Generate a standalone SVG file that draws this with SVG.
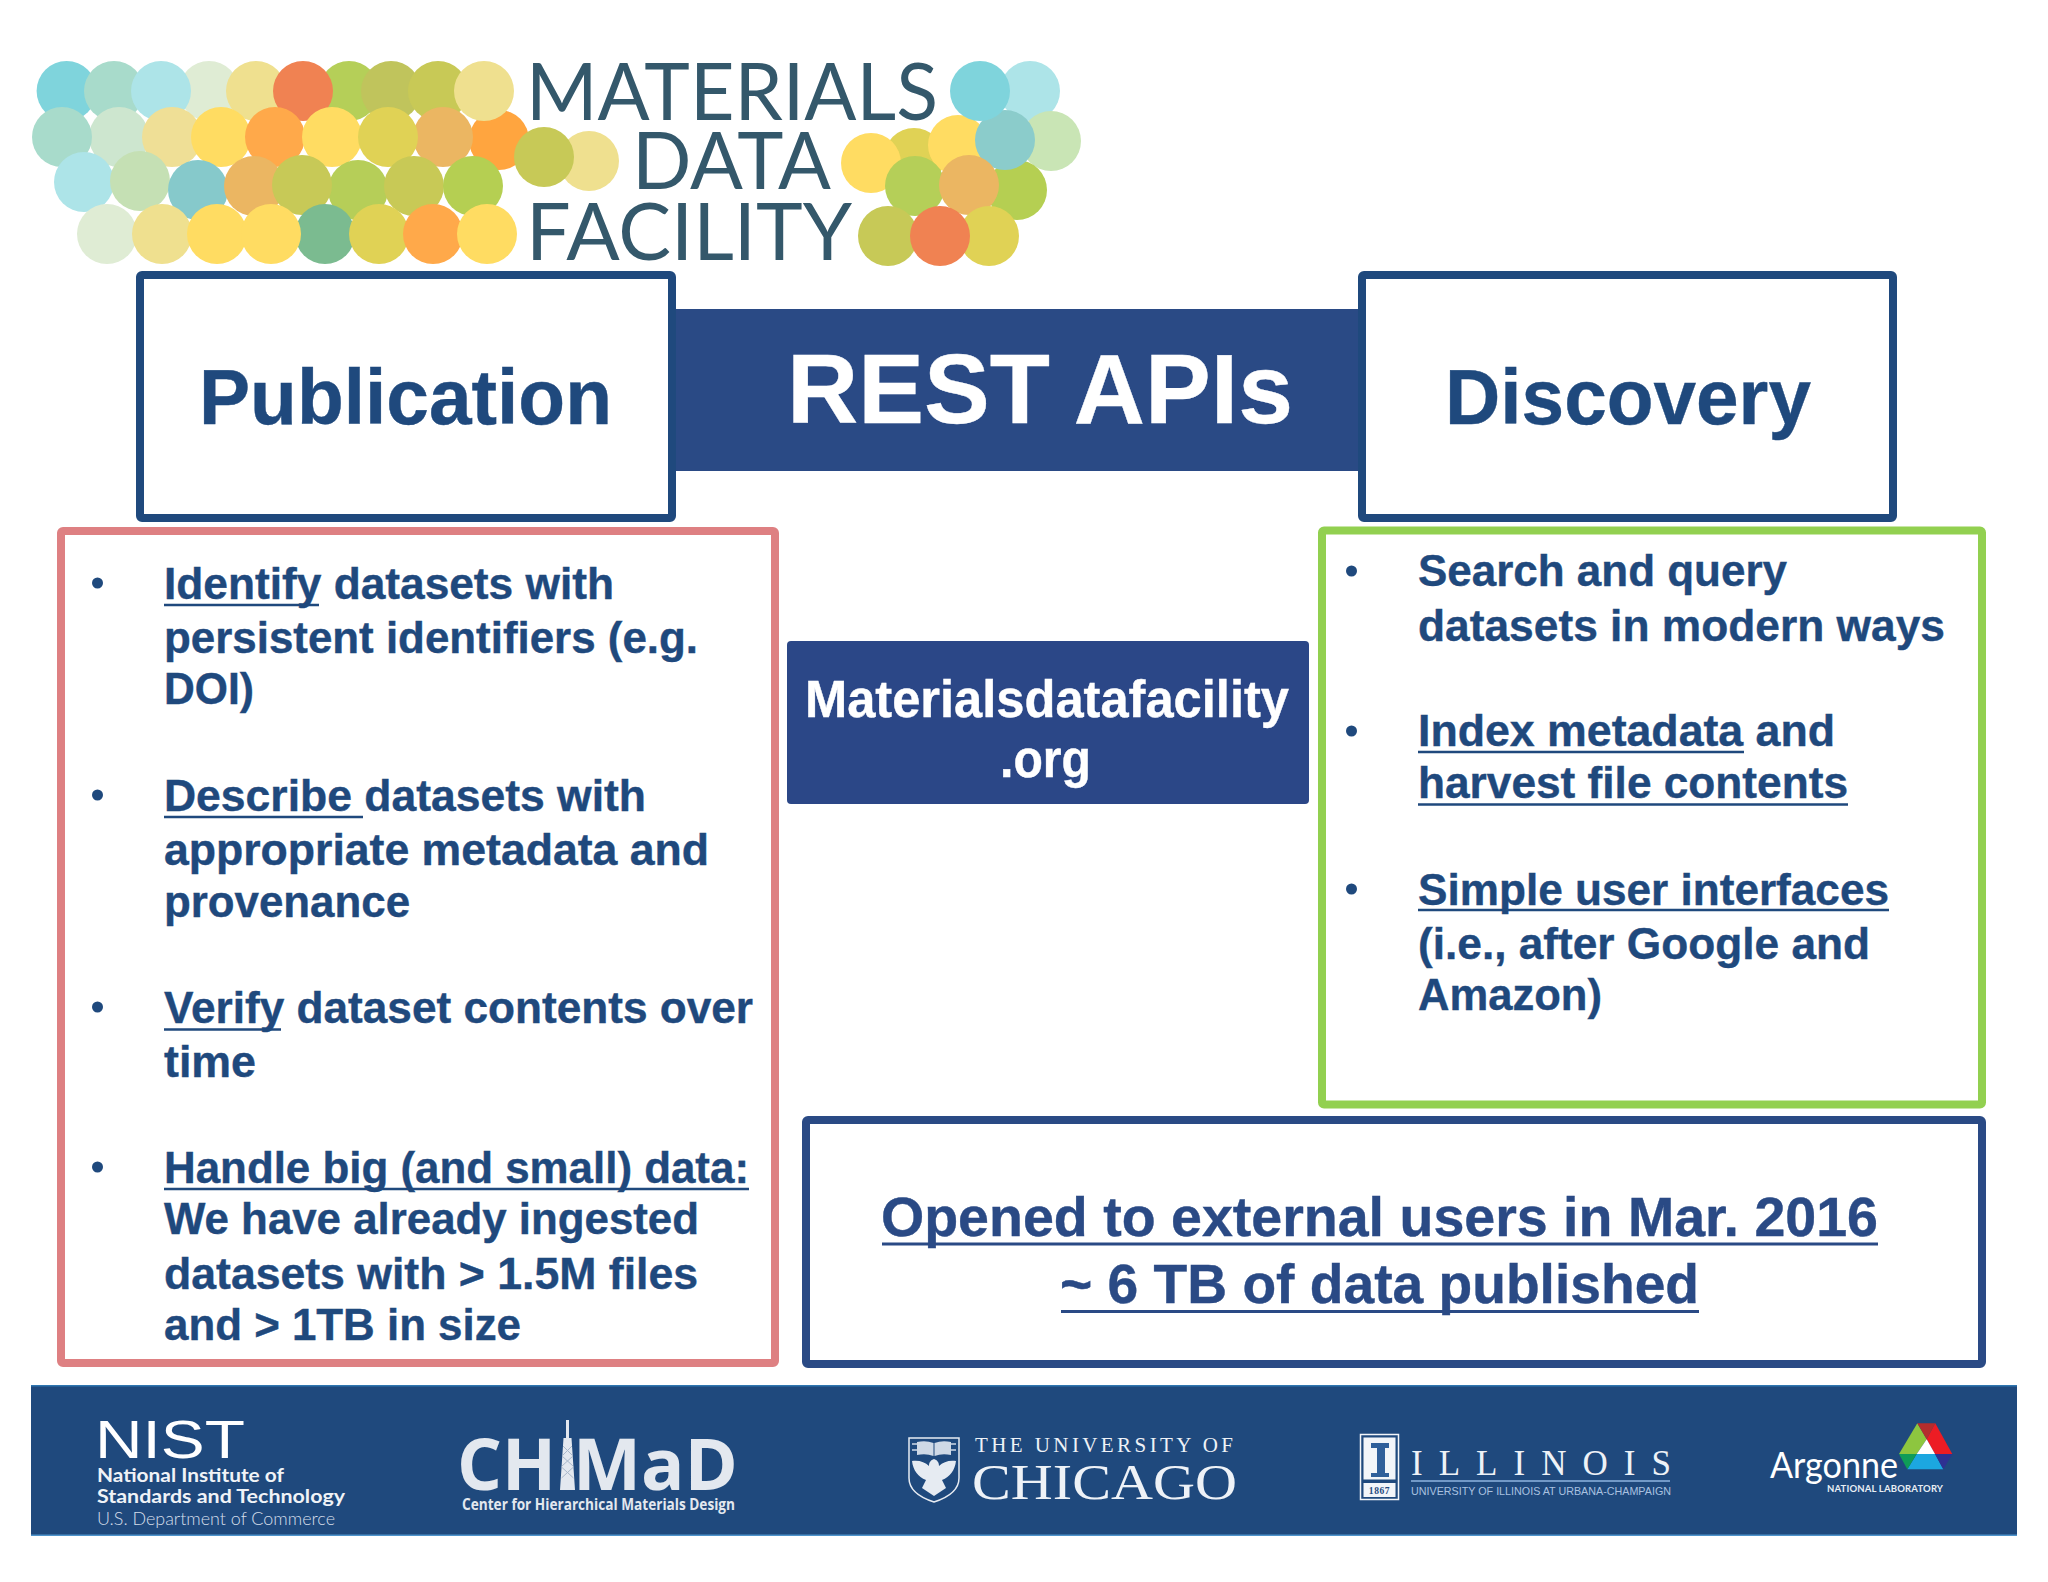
<svg xmlns="http://www.w3.org/2000/svg" width="2048" height="1582" viewBox="0 0 2048 1582">
<style>
.t{font-family:"Liberation Sans",Arial,sans-serif;font-weight:700;fill:#1f497d;stroke:#1f497d;stroke-width:.4}
.b{font-size:44px}
.h{font-size:77px}
.w{fill:#fff;stroke:#fff}
.n{fill:#2a4a85;stroke:#2a4a85;font-size:56px}
.u{stroke:#1f497d;stroke-width:2.6}
.d{fill:#1f497d}
.bx{fill:#fff;stroke-width:8}
.lg{font-family:"Lato","Open Sans",sans-serif;font-weight:400;fill:#34586b;font-size:80px}
.se{font-family:"Liberation Serif","Times New Roman",serif;fill:#eef2f7}
.ni{font-family:"Lato","Noto Sans",sans-serif;fill:#f0f3f7}
.ch{font-family:"Open Sans","Noto Sans",sans-serif;font-weight:700;fill:#e3e8ef}
</style>
<rect width="2048" height="1582" fill="#fff"/>
<g id="logo">
<g id="logo-left">
<circle cx="499" cy="140" r="30" fill="#ffa53f"/>
<circle cx="66.6" cy="91" r="30" fill="#7fd4dc"/><circle cx="114" cy="91" r="30" fill="#a8dbcb"/><circle cx="209" cy="91" r="30" fill="#dfecd4"/><circle cx="161" cy="91" r="30" fill="#ade4e8"/><circle cx="256" cy="91" r="30" fill="#efe08f"/><circle cx="349" cy="91" r="30" fill="#b5cf58"/><circle cx="303" cy="91" r="30" fill="#f08252"/><circle cx="391" cy="91" r="30" fill="#c0c45c"/><circle cx="438" cy="91" r="30" fill="#c8c956"/><circle cx="484" cy="91" r="30" fill="#efe08f"/>
<circle cx="119" cy="137" r="30" fill="#cde6cf"/><circle cx="62" cy="137" r="30" fill="#a8dbcb"/><circle cx="172" cy="137" r="30" fill="#efdf96"/><circle cx="221" cy="137" r="30" fill="#ffdc62"/><circle cx="275" cy="137" r="30" fill="#ffa94a"/><circle cx="332" cy="137" r="30" fill="#ffdc62"/><circle cx="443" cy="137" r="30" fill="#ebb662"/><circle cx="388" cy="137" r="30" fill="#e0d255"/>
<circle cx="84" cy="182" r="30" fill="#ade4e8"/><circle cx="140" cy="181" r="30" fill="#c5e0b4"/><circle cx="198" cy="190" r="30" fill="#86c9cb"/><circle cx="254" cy="186" r="30" fill="#ebb662"/><circle cx="358" cy="190" r="30" fill="#b6ce58"/><circle cx="302" cy="185" r="30" fill="#c7c957"/><circle cx="414" cy="186" r="30" fill="#c8c956"/><circle cx="473" cy="186" r="30" fill="#b5cf52"/>
<circle cx="107" cy="234" r="30" fill="#dfecd4"/><circle cx="162" cy="234" r="30" fill="#efe08f"/><circle cx="217" cy="234" r="30" fill="#ffdc62"/><circle cx="325" cy="234" r="30" fill="#7bbb90"/><circle cx="271" cy="234" r="30" fill="#ffdc62"/><circle cx="379" cy="234" r="30" fill="#e0d255"/><circle cx="433" cy="234" r="30" fill="#ffa94a"/><circle cx="487" cy="234" r="30" fill="#ffdc62"/>
<circle cx="589" cy="161" r="30" fill="#efe08f"/><circle cx="544" cy="157" r="30" fill="#c7c957"/>
</g>
<g id="logo-right">
<circle cx="1030" cy="91" r="30" fill="#ade4e8"/><circle cx="1051" cy="141" r="30" fill="#c9e5b5"/><circle cx="914" cy="158" r="30" fill="#e0d255"/><circle cx="958" cy="145" r="30" fill="#ffdc62"/><circle cx="871" cy="163" r="30" fill="#ffdc62"/><circle cx="1017" cy="190" r="30" fill="#b5cf52"/><circle cx="1005" cy="140" r="30" fill="#8bcccb"/><circle cx="980" cy="91" r="30" fill="#7fd4dc"/><circle cx="915" cy="186" r="30" fill="#b5cf58"/><circle cx="969" cy="185" r="30" fill="#ebb662"/><circle cx="989" cy="236" r="30" fill="#e0d255"/><circle cx="888" cy="236" r="30" fill="#c7c957"/><circle cx="940" cy="236" r="30" fill="#f08252"/>
</g>
<text class="lg" x="526" y="120" textLength="412" lengthAdjust="spacingAndGlyphs">MATERIALS</text>
<text class="lg" x="632" y="189" textLength="199" lengthAdjust="spacingAndGlyphs">DATA</text>
<text class="lg" x="526" y="260" textLength="326" lengthAdjust="spacingAndGlyphs">FACILITY</text>
</g>
<g id="rest-apis">
<rect x="672" y="309" width="690" height="162" fill="#2a4a85"/>
<text class="t w" x="787" y="423" font-size="98" textLength="506" lengthAdjust="spacingAndGlyphs">REST APIs</text>
</g>
<g id="publication">
<rect class="bx" x="140" y="275" width="532" height="243" rx="2" stroke="#1f497d"/>
<text class="t h" x="199" y="424" textLength="413" lengthAdjust="spacingAndGlyphs">Publication</text>
</g>
<g id="discovery">
<rect class="bx" x="1362" y="275" width="531" height="243" rx="2" stroke="#1f497d"/>
<text class="t h" x="1445" y="424" textLength="366" lengthAdjust="spacingAndGlyphs">Discovery</text>
</g>
<g id="publication-list">
<rect class="bx" x="61" y="531" width="714" height="832" rx="2" stroke="#de8082"/>
<circle class="d" cx="97.500" cy="583" r="5.500"/>
<text class="t b" x="164" y="599" textLength="450" lengthAdjust="spacingAndGlyphs">Identify datasets with</text>
<line class="u" x1="164" y1="605" x2="319" y2="605"/>
<text class="t b" x="164" y="653" textLength="534" lengthAdjust="spacingAndGlyphs">persistent identifiers (e.g.</text>
<text class="t b" x="164" y="704" textLength="90" lengthAdjust="spacingAndGlyphs">DOI)</text>
<circle class="d" cx="97.500" cy="795" r="5.500"/>
<text class="t b" x="164" y="811" textLength="482" lengthAdjust="spacingAndGlyphs">Describe datasets with</text>
<line class="u" x1="164" y1="817" x2="363" y2="817"/>
<text class="t b" x="164" y="865" textLength="545" lengthAdjust="spacingAndGlyphs">appropriate metadata and</text>
<text class="t b" x="164" y="917" textLength="246" lengthAdjust="spacingAndGlyphs">provenance</text>
<circle class="d" cx="97.500" cy="1007" r="5.500"/>
<text class="t b" x="164" y="1023" textLength="589" lengthAdjust="spacingAndGlyphs">Verify dataset contents over</text>
<line class="u" x1="164" y1="1029.500" x2="281" y2="1029.500"/>
<text class="t b" x="164" y="1077" textLength="92" lengthAdjust="spacingAndGlyphs">time</text>
<circle class="d" cx="97.500" cy="1167" r="5.500"/>
<text class="t b" x="164" y="1183" textLength="585" lengthAdjust="spacingAndGlyphs">Handle big (and small) data:</text>
<line class="u" x1="164" y1="1189" x2="749" y2="1189"/>
<text class="t b" x="164" y="1234" textLength="535" lengthAdjust="spacingAndGlyphs">We have already ingested</text>
<text class="t b" x="164" y="1289" textLength="534" lengthAdjust="spacingAndGlyphs">datasets with &gt; 1.5M files</text>
<text class="t b" x="164" y="1340" textLength="357" lengthAdjust="spacingAndGlyphs">and &gt; 1TB in size</text>
</g>
<g id="url">
<rect x="787" y="641" width="522" height="163" rx="4" fill="#2b4787"/>
<text class="t w" x="805" y="717" font-size="51" textLength="484" lengthAdjust="spacingAndGlyphs">Materialsdatafacility</text>
<text class="t w" x="1000" y="777" font-size="51" textLength="91" lengthAdjust="spacingAndGlyphs">.org</text>
</g>
<g id="discovery-list">
<rect class="bx" x="1322" y="530.500" width="660" height="574" rx="2" stroke="#92d050"/>
<circle class="d" cx="1351.500" cy="571" r="5.500"/>
<text class="t b" x="1418" y="586" textLength="369" lengthAdjust="spacingAndGlyphs">Search and query</text>
<text class="t b" x="1418" y="640.500" textLength="527" lengthAdjust="spacingAndGlyphs">datasets in modern ways</text>
<circle class="d" cx="1351.500" cy="731" r="5.500"/>
<text class="t b" x="1418" y="746" textLength="417" lengthAdjust="spacingAndGlyphs">Index metadata and</text>
<line class="u" x1="1418" y1="752" x2="1744" y2="752"/>
<text class="t b" x="1418" y="798" textLength="430" lengthAdjust="spacingAndGlyphs">harvest file contents</text>
<line class="u" x1="1418" y1="804.500" x2="1848" y2="804.500"/>
<circle class="d" cx="1351.500" cy="889" r="5.500"/>
<text class="t b" x="1418" y="905" textLength="471" lengthAdjust="spacingAndGlyphs">Simple user interfaces</text>
<line class="u" x1="1418" y1="910" x2="1889" y2="910"/>
<text class="t b" x="1418" y="959" textLength="452" lengthAdjust="spacingAndGlyphs">(i.e., after Google and</text>
<text class="t b" x="1418" y="1010" textLength="184" lengthAdjust="spacingAndGlyphs">Amazon)</text>
</g>
<g id="stats">
<rect class="bx" x="806" y="1120" width="1176" height="244" rx="2" stroke="#2a4a85"/>
<text class="t n" x="881" y="1236" textLength="997" lengthAdjust="spacingAndGlyphs">Opened to external users in Mar. 2016</text>
<line x1="882" y1="1244" x2="1878" y2="1244" stroke="#2a4a85" stroke-width="3"/>
<text class="t n" x="1060" y="1303" textLength="639" lengthAdjust="spacingAndGlyphs">~ 6 TB of data published</text>
<line x1="1061" y1="1311.500" x2="1699" y2="1311.500" stroke="#2a4a85" stroke-width="3"/>
</g>
<g id="footer">
<rect x="31" y="1385" width="1986" height="151" fill="#1f497d"/>
<rect x="31" y="1385" width="1986" height="1.500" fill="#2f76b0"/>
<rect x="31" y="1534.500" width="1986" height="1.500" fill="#4f94cc"/>
<g id="nist">
<text class="ni" x="95" y="1458" font-size="53" style="font-family:'Liberation Sans',sans-serif;font-weight:400;fill:#fff" textLength="150" lengthAdjust="spacingAndGlyphs">NIST</text>
<text class="ni" x="97" y="1482" font-size="18" font-weight="700" textLength="187" lengthAdjust="spacingAndGlyphs">National Institute of</text>
<text class="ni" x="97" y="1503" font-size="18" font-weight="700" textLength="248" lengthAdjust="spacingAndGlyphs">Standards and Technology</text>
<text class="ni" x="97" y="1525" font-size="18" font-weight="300" style="fill:#d5deea" textLength="238" lengthAdjust="spacingAndGlyphs">U.S. Department of Commerce</text>
</g>
<g id="chimad">
<text class="ch" y="1490" font-size="72"><tspan x="457" textLength="99" lengthAdjust="spacingAndGlyphs">CH</tspan><tspan x="562" textLength="11" lengthAdjust="spacingAndGlyphs">I</tspan><tspan x="573" textLength="165" lengthAdjust="spacingAndGlyphs">MaD</tspan></text>
<polygon points="566,1420 569,1420 569,1438 571.500,1438 575,1490 560,1490 563.500,1438 566,1438" fill="#e3e8ef"/>
<path d="M563 1446l9 9m0-9l-9 9M562 1456l11 10m0-10l-11 10M561.500 1467l12 11m0-11l-12 11" stroke="#a9b8cb" stroke-width="1" fill="none"/>
<text class="ch" x="462" y="1510" font-size="15.500" textLength="273" lengthAdjust="spacingAndGlyphs">Center for Hierarchical Materials Design</text>
</g>
<g id="chicago">
<path d="M909 1438H959V1478Q959 1494 934 1502Q909 1494 909 1478Z" fill="none" stroke="#e6ebf2" stroke-width="1.500"/>
<path d="M917 1442Q926 1440 933.500 1443V1456Q926 1453 917 1455ZM934.500 1443Q942 1440 951 1442V1455Q942 1453 934.500 1456Z" fill="#cfd9e6"/>
<path d="M912 1444H917M912 1450H917M951 1444H956M951 1450H956" stroke="#cfd9e6" stroke-width="1.500"/>
<path d="M934 1459c-3 1-5 3-5 7-4-4-10-6-17-5 1 9 6 16 14 19l-4 8 12 8 12-8-4-8c8-3 13-10 14-19-7-1-13 1-17 5 0-4-2-6-5-7z" fill="#e6ebf2"/>
<text class="se" x="975" y="1452" font-size="21" textLength="258">THE UNIVERSITY OF</text>
<text class="se" x="972" y="1499" font-size="50" textLength="265" lengthAdjust="spacingAndGlyphs">CHICAGO</text>
</g>
<g id="illinois">
<rect x="1360.500" y="1434.500" width="38" height="65" fill="none" stroke="#f2f5f9" stroke-width="1.500"/>
<rect x="1363.500" y="1437.500" width="32" height="42" fill="#f2f5f9"/>
<rect x="1363.500" y="1483" width="32" height="14" fill="#f2f5f9"/>
<path d="M1371 1443H1389V1448H1385V1473H1389V1477H1371V1473H1377V1448H1371Z" fill="#2f5f9a"/>
<text x="1379.500" y="1494" font-family="Liberation Serif, serif" font-weight="700" font-size="9.500" text-anchor="middle" fill="#1f497d" letter-spacing=".6">1867</text>
<text class="se" x="1411" y="1475" font-size="35" textLength="260">ILLINOIS</text>
<line x1="1411" y1="1481" x2="1670" y2="1481" stroke="#8fb4e0" stroke-width="1.500"/>
<text x="1411" y="1494.500" font-family="Liberation Sans, sans-serif" font-size="11.500" fill="#a9c1e0" textLength="260" lengthAdjust="spacingAndGlyphs">UNIVERSITY OF ILLINOIS AT URBANA-CHAMPAIGN</text>
</g>
<g id="argonne">
<polygon points="1917.300,1423.300 1926.700,1439.300 1916.700,1454 1899,1454" fill="#8dc63f"/>
<polygon points="1917.300,1423.300 1935.300,1423.300 1926.700,1439.300" fill="#b52d2d"/>
<polygon points="1935.300,1423.300 1952.300,1454 1935,1454 1926.700,1439.300" fill="#ed1c24"/>
<polygon points="1926.700,1439.300 1935,1454 1916.700,1454" fill="#fff"/>
<polygon points="1916.700,1454 1935,1454 1943.300,1469.300 1907.300,1469.300" fill="#1ca7e0"/>
<polygon points="1899,1454 1916.700,1454 1907.300,1469.300" fill="#0f9d58"/>
<polygon points="1935,1454 1952.300,1454 1943.300,1469.300" fill="#2e3192"/>
<text x="1770" y="1478" font-family="Lato, Open Sans, sans-serif" font-weight="400" font-size="36" fill="#fff" textLength="128" lengthAdjust="spacingAndGlyphs">Argonne</text>
<text x="1827" y="1491.500" font-family="Lato, Open Sans, sans-serif" font-weight="700" font-size="9.500" fill="#e8eef4" textLength="116">NATIONAL LABORATORY</text>
</g>
</g>
</svg>
